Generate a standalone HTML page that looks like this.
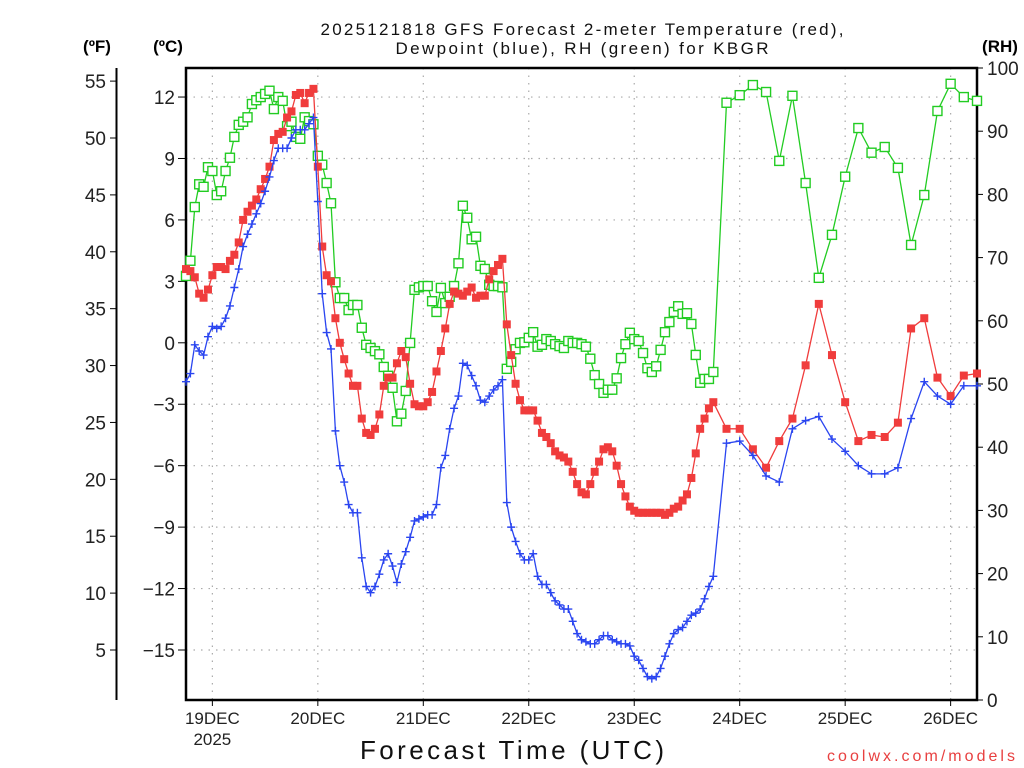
<!DOCTYPE html>
<html><head><meta charset="utf-8"><style>
html,body{margin:0;padding:0;background:#fff;}
svg{display:block;font-family:"Liberation Sans",sans-serif;}
</style></head><body>
<svg id="chart" width="1024" height="768" viewBox="0 0 1024 768" xmlns="http://www.w3.org/2000/svg">
<text x="582" y="35" text-anchor="middle" font-size="17" textLength="523" fill="#111">2025121818 GFS Forecast 2-meter Temperature (red),</text>
<text x="582" y="54" text-anchor="middle" font-size="17" textLength="373" fill="#111">Dewpoint (blue), RH (green) for KBGR</text>
<text x="97" y="52" text-anchor="middle" font-size="17" font-weight="bold">(ºF)</text>
<text x="168" y="52" text-anchor="middle" font-size="17" font-weight="bold">(ºC)</text>
<text x="1000" y="52" text-anchor="middle" font-size="17" font-weight="bold">(RH)</text>
<text x="512" y="759" text-anchor="middle" font-size="26" textLength="304" fill="#111">Forecast Time (UTC)</text>
<text x="1015" y="761" text-anchor="end" font-size="16" fill="#e84040" textLength="188">coolwx.com/models</text>
<g id="grid"></g><g id="axes"></g><g id="series"></g>
</svg>
<script>
const dayLabels = ["19DEC","20DEC","21DEC","22DEC","23DEC","24DEC","25DEC","26DEC"];
const cTicks = [-15,-12,-9,-6,-3,0,3,6,9,12];
const fTicks = [5,10,15,20,25,30,35,40,45,50,55];
const rhTicks = [0,10,20,30,40,50,60,70,80,90,100];
// hourly for 0..120 h, then 3-hourly to 180 h (hours from 18Z 18 Dec)
const tempC = [3.6,3.5,3.2,2.4,2.2,2.6,3.3,3.7,3.7,3.6,4.0,4.3,4.9,6.0,6.4,6.7,7.0,7.5,8.0,8.6,9.9,10.2,10.3,11.0,11.3,12.1,12.2,11.7,12.2,12.4,8.6,4.7,3.3,3.0,1.2,0.0,-0.8,-1.5,-2.1,-2.1,-3.7,-4.4,-4.5,-4.2,-3.5,-2.1,-1.7,-1.7,-1.0,-0.4,-0.7,-2.0,-3.0,-3.1,-3.1,-2.9,-2.4,-1.4,-0.4,0.7,1.9,2.5,2.4,2.3,2.5,2.7,2.2,2.3,2.3,3.1,3.5,3.8,4.1,0.9,-0.6,-2.0,-2.8,-3.3,-3.3,-3.3,-3.8,-4.4,-4.6,-4.9,-5.3,-5.5,-5.6,-5.8,-6.3,-6.9,-7.3,-7.4,-6.9,-6.3,-5.8,-5.2,-5.1,-5.3,-6.0,-6.9,-7.5,-8.0,-8.2,-8.3,-8.3,-8.3,-8.3,-8.3,-8.3,-8.4,-8.3,-8.1,-8.0,-7.7,-7.4,-6.6,-5.4,-4.2,-3.7,-3.2,-2.9,
-4.2,-4.2,-5.2,-6.1,-4.8,-3.7,-1.1,1.9,-0.6,-2.9,-4.8,-4.5,-4.6,-3.9,0.7,1.2,-1.7,-2.6,-1.6,-1.5];
const dewC = [-1.9,-1.5,-0.1,-0.4,-0.6,0.3,0.8,0.7,0.8,1.2,1.8,2.7,3.6,4.7,5.3,5.8,6.3,6.8,7.4,8.1,8.9,9.5,9.5,9.5,10.0,10.4,10.4,10.4,10.7,11.0,6.9,2.4,0.5,-0.3,-4.3,-6.0,-6.8,-7.9,-8.3,-8.3,-10.5,-11.9,-12.2,-11.9,-11.3,-10.6,-10.3,-10.9,-11.7,-10.8,-10.2,-9.5,-8.7,-8.6,-8.5,-8.4,-8.4,-7.9,-6.1,-5.5,-4.2,-3.2,-2.6,-1.0,-1.1,-1.6,-2.1,-2.8,-2.9,-2.6,-2.3,-2.1,-1.8,-7.8,-9.0,-9.7,-10.3,-10.6,-10.6,-10.3,-11.4,-11.8,-11.8,-12.2,-12.6,-12.8,-13.0,-13.0,-13.6,-14.2,-14.5,-14.6,-14.7,-14.7,-14.5,-14.3,-14.3,-14.5,-14.6,-14.7,-14.7,-14.8,-15.3,-15.5,-15.9,-16.3,-16.4,-16.3,-15.9,-15.3,-14.7,-14.2,-14.0,-13.9,-13.6,-13.3,-13.2,-13.0,-12.5,-11.9,-11.4,
-4.9,-4.8,-5.5,-6.5,-6.8,-4.2,-3.8,-3.6,-4.7,-5.3,-6.0,-6.4,-6.4,-6.1,-3.7,-1.9,-2.6,-3.0,-2.1,-2.1];
const rhPct = [67.1,69.5,78.0,81.6,81.2,84.3,83.7,79.9,80.5,83.7,85.8,89.1,91.0,91.5,92.2,94.3,94.9,95.4,95.9,96.4,93.5,95.4,94.8,90.8,91.5,89.1,88.8,92.2,91.6,91.1,86.1,84.7,81.8,78.6,66.1,63.6,63.6,61.7,62.5,62.5,58.9,56.2,55.7,55.2,54.7,52.7,51.3,49.4,44.1,45.3,48.9,56.5,64.9,65.3,65.5,65.5,63.1,61.4,65.2,62.8,63.8,65.5,69.1,78.2,76.3,72.9,73.3,68.7,68.2,65.7,65.5,65.5,65.3,52.4,53.5,55.5,56.5,56.6,57.3,58.2,55.9,56.2,57.1,56.8,56.3,56.0,55.7,56.8,56.5,56.5,56.3,55.9,54.0,51.4,50.0,48.6,49.1,49.1,50.9,54.1,56.3,58.1,57.1,56.8,54.9,52.5,51.9,52.8,55.4,58.2,59.8,61.4,62.3,61.1,61.2,59.5,54.6,50.2,50.8,50.8,51.9,
94.5,95.7,97.3,96.2,85.3,95.6,81.8,66.8,73.6,82.8,90.5,86.6,87.5,84.2,72.0,79.9,93.2,97.5,95.4,94.8];

const NS='http://www.w3.org/2000/svg';
const L=186,R=977,T=68,B=700;
const pxPerHour=(R-L)/180;
function hourOf(i){return i<=120?i:120+3*(i-120);}
function xOf(h){return L+h*pxPerHour;}
function yC(c){return 342.8-c*20.48;}
function yF(f){return yC((f-32)*5/9);}
function yRH(r){return B-r*(B-T)/100;}
function mk(tag,attrs,parent){const e=document.createElementNS(NS,tag);for(const k in attrs)e.setAttribute(k,attrs[k]);parent.appendChild(e);return e;}
const grid=document.getElementById('grid'),axes=document.getElementById('axes'),series=document.getElementById('series');

dayLabels.forEach((d,i)=>{
  const x=xOf(6+24*i);
  const g=mk('line',{x1:x,x2:x,y1:T,y2:B,stroke:'#aaa','stroke-width':1.2,'stroke-dasharray':'1.5,6'},grid);
  
  
  const tk=mk('line',{x1:x,x2:x,y1:B,y2:B+6,stroke:'#000','stroke-width':1},axes);
  
  
  const t=mk('text',{x:x,y:B+24,'text-anchor':'middle','font-size':17,fill:'#222'},axes);
  t.textContent=d;
  
  
});
const yr=mk('text',{x:xOf(6),y:B+45,'text-anchor':'middle','font-size':17,fill:'#222'},axes);
yr.textContent='2025';



cTicks.forEach(c=>{
  const y=yC(c);
  const g=mk('line',{x1:L,x2:R,y1:y,y2:y,stroke:'#aaa','stroke-width':1.2,'stroke-dasharray':'1.5,6'},grid);
  
  
  const tk=mk('line',{x1:L-8,x2:L,y1:y,y2:y,stroke:'#000','stroke-width':1},axes);
  
  
  const t=mk('text',{x:L-11,y:y+7,'text-anchor':'end','font-size':19,fill:'#222'},axes);
  t.textContent=c<0?'\u2212'+Math.abs(c):String(c);
  
  
});
fTicks.forEach(f=>{
  const y=yF(f);
  const tk=mk('line',{x1:110,x2:117,y1:y,y2:y,stroke:'#000','stroke-width':1},axes);
  
  
  const t=mk('text',{x:106,y:y+7,'text-anchor':'end','font-size':19,fill:'#222'},axes);
  t.textContent=String(f);
  
  
});
rhTicks.forEach(r=>{
  const y=yRH(r);
  const tk=mk('line',{x1:R,x2:R+6,y1:y,y2:y,stroke:'#000','stroke-width':1},axes);
  
  
  const t=mk('text',{x:R+10,y:y+7,'font-size':19,fill:'#222'},axes);
  t.textContent=String(r);
  
  
});
const fl=mk('line',{x1:116.5,x2:116.5,y1:T,y2:B,stroke:'#000','stroke-width':2},axes);


const fr=mk('rect',{x:L,y:T,width:R-L,height:B-T,fill:'none',stroke:'#000','stroke-width':2.5},axes);



function drawSeries(vals,yfn,color,kind,name){
  const pts=vals.map((v,i)=>[xOf(hourOf(i)),yfn(v)]);
  const pl=mk('polyline',{points:pts.map(p=>p[0].toFixed(1)+','+p[1].toFixed(1)).join(' '),fill:'none',stroke:color,'stroke-width':1.3},series);
  
  
  pts.forEach(p=>{
    let m;
    if(kind==='fill'){m=mk('rect',{x:p[0]-4,y:p[1]-4,width:8,height:8,fill:color},series);}
    else if(kind==='open'){m=mk('rect',{x:p[0]-4.5,y:p[1]-4.5,width:9,height:9,fill:'#fff',stroke:color,'stroke-width':1.4},series);}
    else {m=mk('path',{d:`M${p[0]-4},${p[1]}h8M${p[0]},${p[1]-4}v8`,stroke:color,'stroke-width':1.4,fill:'none'},series);}
    
    
  });
}
drawSeries(rhPct,yRH,'#22cc22','open','rh');
drawSeries(tempC,yC,'#f03c3c','fill','temperature');
drawSeries(dewC,yC,'#2a45f0','plus','dewpoint');
</script>
</body></html>
